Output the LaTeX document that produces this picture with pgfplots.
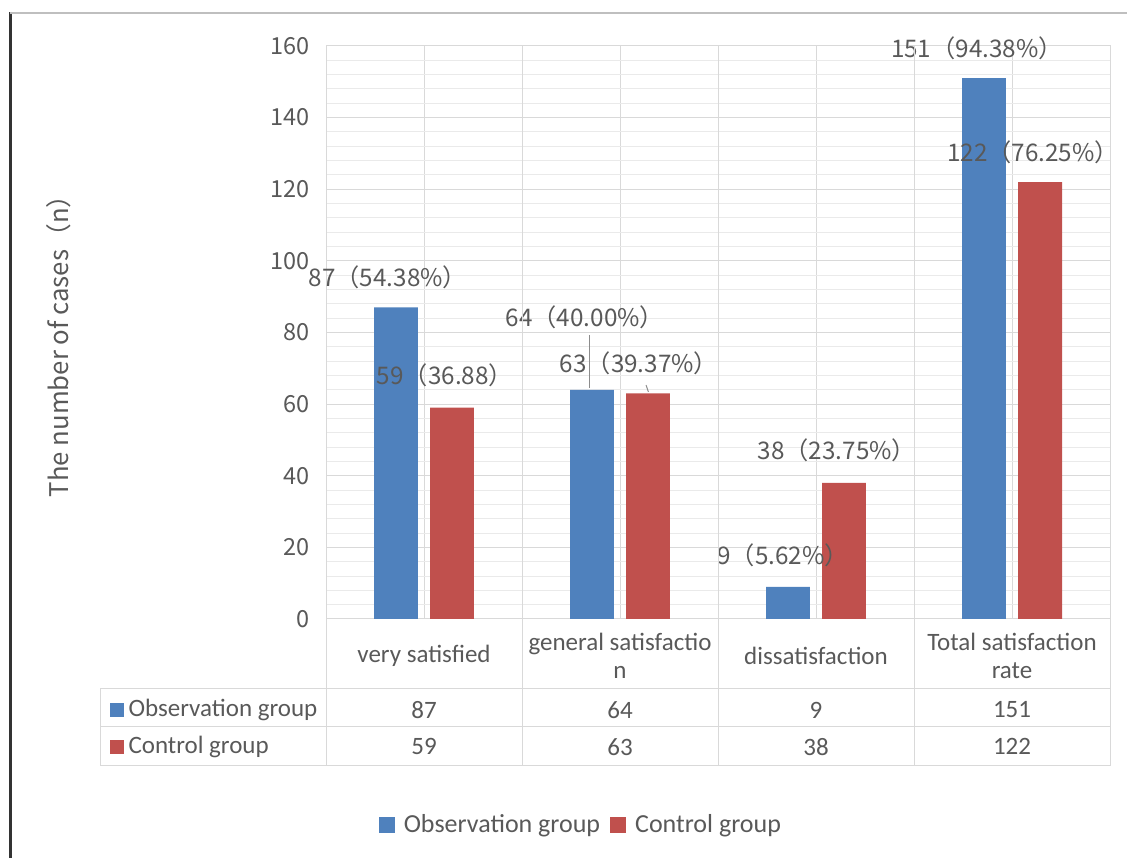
\documentclass[border=0pt]{standalone}
\usepackage{fontspec}
\setmainfont{Carlito}
\newfontfamily\cjk{Noto Sans CJK SC}
\usepackage{pgfplots}
\pgfplotsset{compat=1.18}
\definecolor{obs}{RGB}{79,129,189}
\definecolor{ctl}{RGB}{192,80,77}
\definecolor{txt}{RGB}{89,89,89}
\definecolor{gridc}{RGB}{217,217,217}
\definecolor{gridm}{RGB}{234,234,234}
\begin{document}
\begin{tikzpicture}[
  lbl/.style={font=\cjk\fontsize{9.7}{11}\selectfont, text=txt, anchor=center, inner sep=0pt},
  cell/.style={font=\fontsize{10}{12}\selectfont, text=txt, anchor=center, inner sep=0pt}]
\begin{scope}[x=0.4pt,y=0.4pt]
\path[use as bounding box] (0,0) rectangle (1127,858);
% frame of the original picture
\draw[black!80, line width=1.2pt] (10.5,846) -- (10.5,0);
\draw[black!25, line width=0.8pt] (10,845) -- (1127,845);
\end{scope}
\begin{axis}[
  at={(130.4pt,95.6pt)}, anchor=south west,
  scale only axis, width=313.6pt, height=229.2pt,
  xmin=-0.5, xmax=3.5, ymin=0, ymax=160,
  xtick={0,1,2,3},
  xticklabels={very satisfied, {general satisfactio\\n}, dissatisfaction, {Total satisfaction\\rate}},
  xticklabel style={align=center, anchor=center, yshift=-14.8pt,
    font=\fontsize{10}{11.2}\selectfont, text=txt},
  ytick={0,20,...,160},
  minor y tick num=4,
  xmajorgrids, ymajorgrids, yminorgrids,
  major grid style={gridc}, minor grid style={gridm},
  axis line style={gridc}, tick style={draw=none},
  yticklabel style={font=\cjk\fontsize{9.4}{10}\selectfont, text=txt, xshift=-3pt},
  /pgf/number format/assume math mode=true,
  ylabel={The number of cases（n）},
  every axis y label/.style={at={(axis description cs:-0.3406,0.487)}, rotate=90,
    anchor=center, font=\cjk\fontsize{10.3}{12}\selectfont, text=txt},
  legend columns=2,
  legend style={at={(axis description cs:0.327,-0.36)}, anchor=center, draw=none, fill=none,
    font=\fontsize{10.4}{12}\selectfont, text=txt,
    /tikz/every even column/.append style={column sep=2pt}},
  legend image code/.code={\fill[#1] (0pt,-3.2pt) rectangle (6.4pt,3.2pt); \path (8pt,0pt);},
  clip=false,
]
\addplot[ybar, fill=obs, draw=none, bar width=0.224, bar shift=-0.143]
  coordinates {(0,87) (1,64) (2,9) (3,151)};
\addlegendentry{Observation group}
\addplot[ybar, fill=ctl, draw=none, bar width=0.224, bar shift=0.143]
  coordinates {(0,59) (1,63) (2,38) (3,122)};
\addlegendentry{Control group}

% data labels
\node[lbl] at (axis cs:-0.184,95.5) {87（54.38\%）};
\node[lbl] at (axis cs:0.107,68.1) {59（36.88）};
\node[lbl] at (axis cs:0.821,84.3) {64（40.00\%）};
\node[lbl] at (axis cs:1.097,71.5) {63（39.37\%）};
\node[lbl] at (axis cs:1.832,17.9) {9（5.62\%）};
\node[lbl] at (axis cs:2.107,47.2) {38（23.75\%）};
\node[lbl] at (axis cs:2.821,159.4) {151（94.38\%）};
\node[lbl] at (axis cs:3.107,130.4) {122（76.25\%）};
\draw[black!45] (axis cs:0.842,79.3) -- (axis cs:0.842,64.5);
\draw[black!45] (axis cs:1.133,65.3) -- (axis cs:1.145,63.4);

% data table values
\node[cell] at (axis cs:0,-25.4) {87};
\node[cell] at (axis cs:1,-25.4) {64};
\node[cell] at (axis cs:2,-25.4) {9};
\node[cell] at (axis cs:3,-25.4) {151};
\node[cell] at (axis cs:0,-35.7) {59};
\node[cell] at (axis cs:1,-35.7) {63};
\node[cell] at (axis cs:2,-35.7) {38};
\node[cell] at (axis cs:3,-35.7) {122};
\end{axis}
\begin{scope}[x=0.4pt,y=0.4pt]
% data table grid
\draw[gridc] (100,169) -- (1110,169);
\draw[gridc] (100,131) -- (1110,131);
\draw[gridc] (100,92) -- (1110,92);
\draw[gridc] (100,169) -- (100,92);
\draw[gridc] (326,239) -- (326,92);
\draw[gridc] (1110,239) -- (1110,92);
\foreach \xx in {522,718,914} \draw[gridc] (\xx,812) -- (\xx,92);
\fill[obs] (110,141) rectangle (124,155);
\node[cell, anchor=west] at (128,148) {Observation group};
\fill[ctl] (110,104) rectangle (124,118);
\node[cell, anchor=west] at (128,111) {Control group};
\end{scope}
\end{tikzpicture}
\end{document}
